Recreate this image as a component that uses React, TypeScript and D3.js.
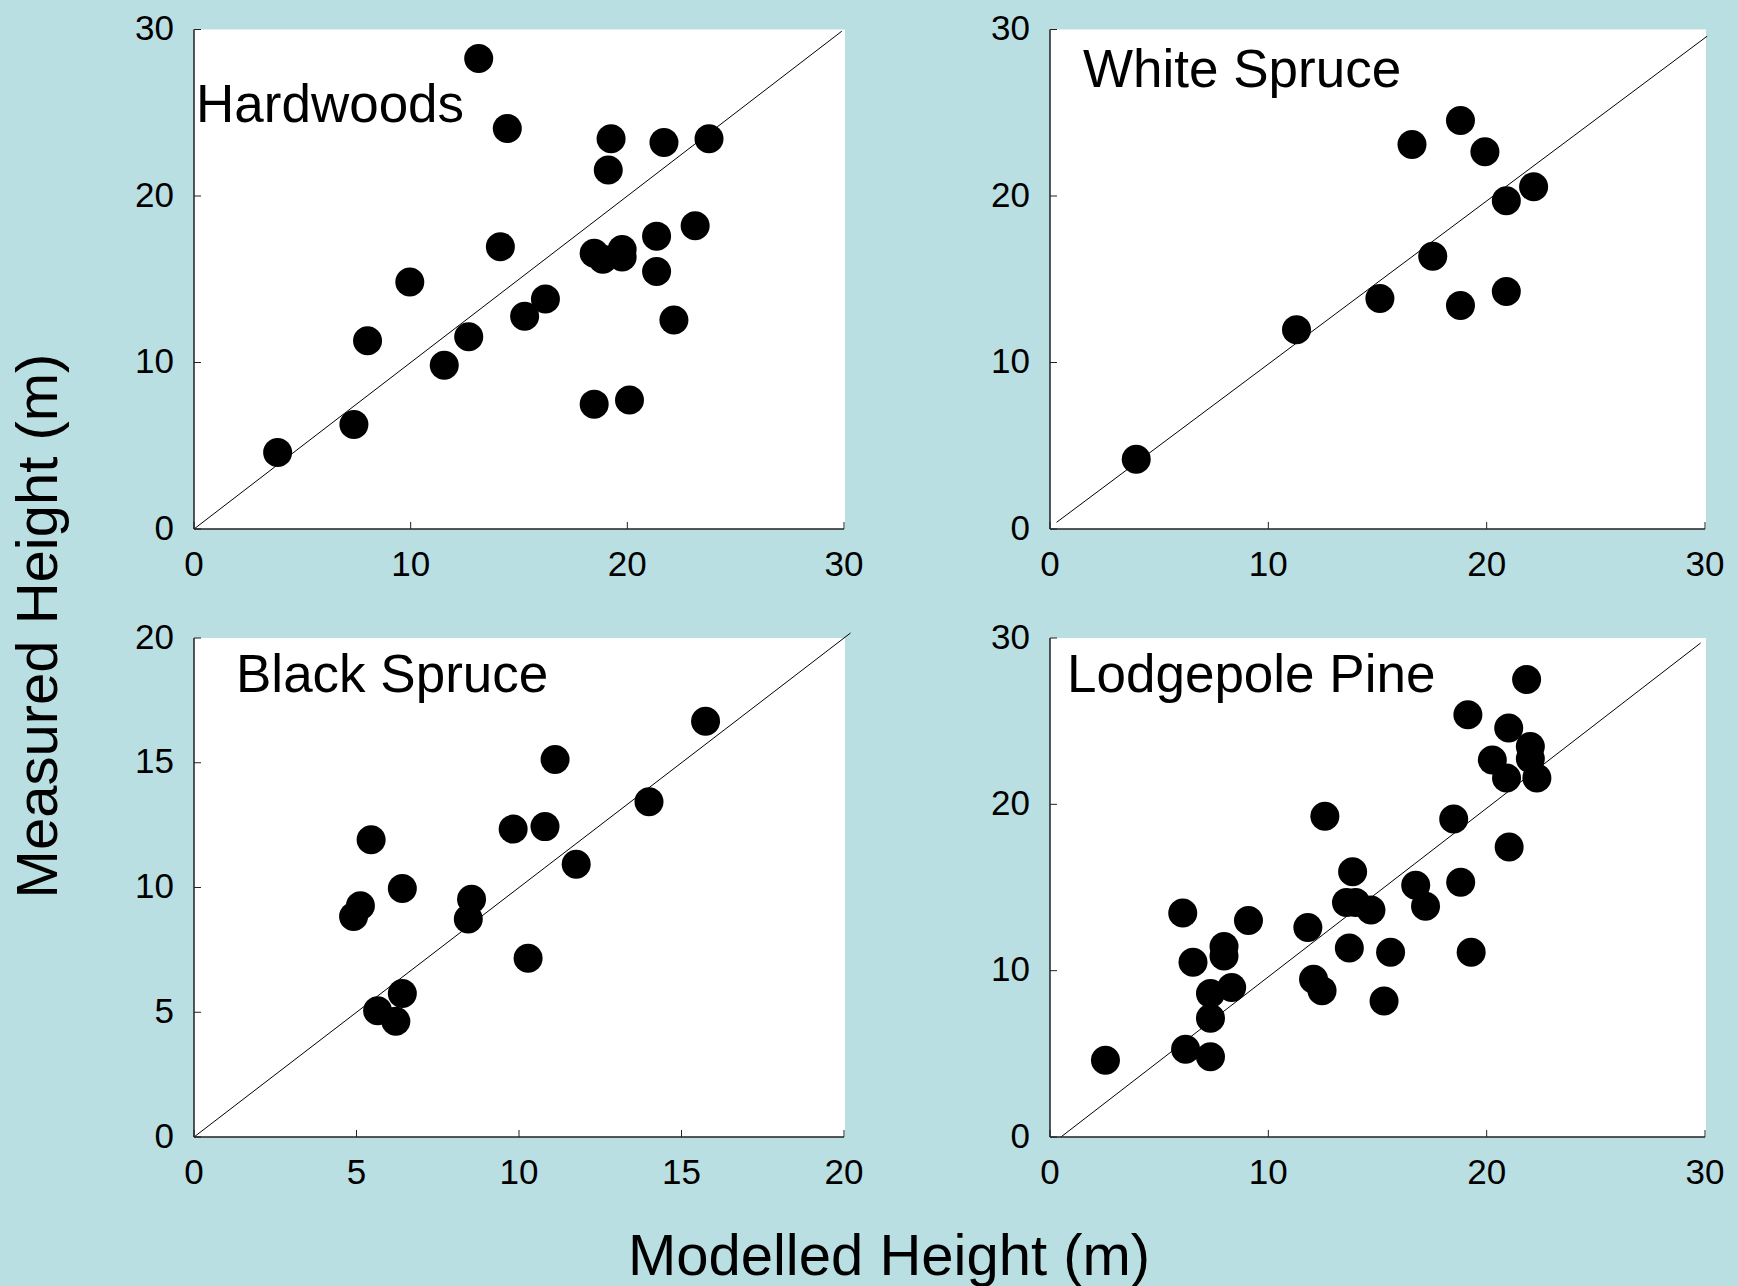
import React from 'react';
import * as d3 from 'd3';

// Hardwoods: modelled vs measured height (m)
const hardwoodsModelled = [3.86, 7.38, 8.01, 9.96, 11.55, 12.68, 13.14, 14.14, 14.46, 15.26, 16.22, 18.47, 18.87, 19.12, 19.25, 19.76, 19.76, 18.47, 20.1, 21.69, 21.35, 21.35, 22.15, 23.13, 23.77];
const hardwoodsMeasured = [4.59, 6.28, 11.31, 14.84, 9.84, 11.54, 28.26, 16.95, 24.06, 12.78, 13.81, 16.56, 16.2, 21.56, 23.44, 16.79, 16.33, 7.5, 7.75, 23.21, 17.59, 15.46, 12.55, 18.21, 23.44];

const whiteSpruceModelled = [3.95, 11.29, 15.11, 16.58, 17.53, 18.8, 18.8, 19.92, 20.9, 20.9, 22.15];
const whiteSpruceMeasured = [4.19, 11.96, 13.85, 23.1, 16.38, 24.54, 13.43, 22.66, 19.71, 14.26, 20.56];

const blackSpruceModelled = [4.91, 5.12, 5.45, 5.65, 6.21, 6.41, 6.41, 8.44, 8.54, 9.82, 10.28, 10.8, 11.11, 11.76, 14.0, 15.74];
const blackSpruceMeasured = [8.84, 9.27, 11.91, 5.06, 4.64, 5.75, 9.96, 8.74, 9.53, 12.34, 7.16, 12.44, 15.13, 10.93, 13.44, 16.66];

const lodgepoleModelled = [2.54, 6.08, 6.21, 6.55, 7.35, 7.35, 7.35, 7.97, 7.97, 8.32, 9.09, 11.81, 12.07, 12.46, 12.59, 13.71, 13.58, 14.0, 13.86, 14.7, 15.6, 15.3, 16.75, 17.2, 18.49, 18.81, 19.29, 19.14, 20.26, 20.91, 21.01, 21.03, 21.83, 22.0, 22.0, 22.3];
const lodgepoleMeasured = [4.61, 13.46, 5.28, 10.51, 8.62, 7.14, 4.82, 11.45, 10.88, 8.99, 13.02, 12.6, 9.49, 8.8, 19.29, 11.36, 14.1, 14.1, 15.94, 13.64, 11.11, 8.18, 15.14, 13.87, 19.12, 15.32, 11.11, 25.39, 22.67, 21.59, 24.59, 17.44, 27.51, 23.48, 22.74, 21.59];

const ticks30 = [0, 10, 20, 30];
const ticks20 = [0, 5, 10, 15, 20];

// 1:1 reference lines as drawn in each panel [x0, y0, x1, y1]
const hardwoodsLine = [0, 0, 29.9, 29.9];
const whiteSpruceLine = [0.3, 0.4, 30.1, 29.6];
const blackSpruceLine = [0, 0, 20.2, 20.2];
const lodgepoleLine = [0.5, 0, 29.8, 29.7];

const W = 1738;
const H = 1286;
const BG = '#badfe2';
const FONT = '"Liberation Sans", Arial, Helvetica, sans-serif';

interface PanelProps {
  title: string;
  xs: number[];
  ys: number[];
  max: number;
  ticks: number[];
  line: number[];
  left: number;
  right: number;
  top: number;
  bottom: number;
  titleX: number;
  titleY: number;
}

const Panel: React.FC<PanelProps> = ({ title, xs, ys, max, ticks, line, left, right, top, bottom, titleX, titleY }) => {
  const x = d3.scaleLinear().domain([0, max]).range([left, right]);
  const y = d3.scaleLinear().domain([0, max]).range([bottom, top]);
  const tickLen = 7;

  return (
    <g>
      <rect x={left} y={top} width={right - left + 1} height={bottom - top} fill="#fff" />
      <line x1={x(line[0])} y1={y(line[1])} x2={x(line[2])} y2={y(line[3])} stroke="#000" strokeWidth={1} />
      {xs.map((d, i) => (
        <circle key={i} cx={x(d)} cy={y(ys[i])} r={14.5} fill="#000" />
      ))}
      <line x1={left} y1={top} x2={left} y2={bottom} stroke="#222" strokeWidth={1.5} />
      <line x1={left} y1={bottom} x2={right} y2={bottom} stroke="#222" strokeWidth={1.5} />
      {ticks.map((t) => (
        <g key={'x' + t}>
          <line x1={x(t)} y1={bottom} x2={x(t)} y2={bottom - tickLen} stroke="#222" strokeWidth={1} />
          <text x={x(t)} y={bottom + 47} textAnchor="middle" fontSize={35} fontFamily={FONT} fill="#000">{t}</text>
        </g>
      ))}
      {ticks.map((t) => (
        <g key={'y' + t}>
          <line x1={left} y1={y(t)} x2={left + tickLen} y2={y(t)} stroke="#222" strokeWidth={1} />
          <text x={left - 20} y={y(t)} dy="0.3em" textAnchor="end" fontSize={35} fontFamily={FONT} fill="#000">{t}</text>
        </g>
      ))}
      <text x={titleX} y={titleY} fontSize={53} fontFamily={FONT} fill="#000">{title}</text>
    </g>
  );
};

export default function App() {
  return (
    <svg width={W} height={H} style={{ position: 'absolute', left: 0, top: 0, display: 'block' }}>
      <rect width={W} height={H} fill={BG} />
      <Panel title="Hardwoods" xs={hardwoodsModelled} ys={hardwoodsMeasured} max={30} ticks={ticks30}
        line={hardwoodsLine} left={194} right={844} top={29.5} bottom={529} titleX={196} titleY={122} />
      <Panel title="White Spruce" xs={whiteSpruceModelled} ys={whiteSpruceMeasured} max={30} ticks={ticks30}
        line={whiteSpruceLine} left={1050} right={1705} top={29.5} bottom={529} titleX={1083} titleY={87} />
      <Panel title="Black Spruce" xs={blackSpruceModelled} ys={blackSpruceMeasured} max={20} ticks={ticks20}
        line={blackSpruceLine} left={194} right={844} top={638} bottom={1137} titleX={236} titleY={692} />
      <Panel title="Lodgepole Pine" xs={lodgepoleModelled} ys={lodgepoleMeasured} max={30} ticks={ticks30}
        line={lodgepoleLine} left={1050} right={1705} top={638} bottom={1137} titleX={1067} titleY={692} />
      <text x={889} y={1275} textAnchor="middle" fontSize={58} fontFamily={FONT} fill="#000">Modelled Height (m)</text>
      <text transform="translate(57,626) rotate(-90)" textAnchor="middle" fontSize={58} fontFamily={FONT} fill="#000">Measured Height (m)</text>
    </svg>
  );
}
